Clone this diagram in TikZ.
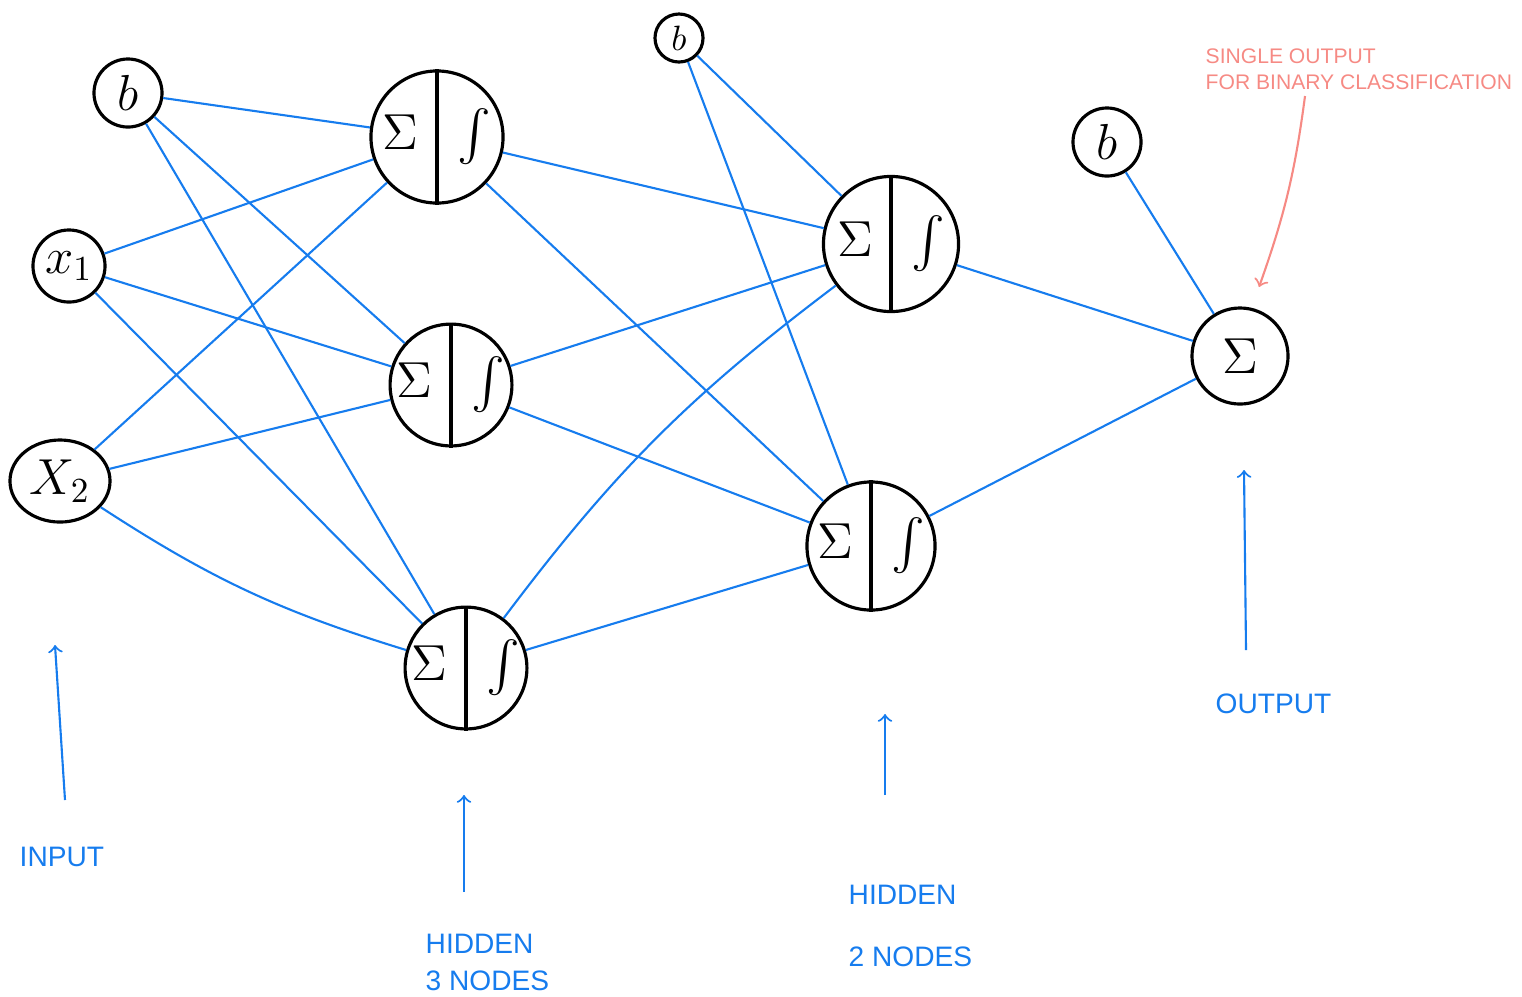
\documentclass[tikz,border=0pt]{standalone}
\usepackage{amsmath,amssymb}
\usepackage{fontspec}
\setsansfont{Liberation Sans}
\usepackage{tikz}
\usetikzlibrary{shapes.geometric}
\definecolor{pen}{RGB}{22,124,238}
\definecolor{note}{RGB}{246,138,132}

\begin{document}
\begin{tikzpicture}[x=0.01cm,y=-0.01cm,
    unit/.style={draw,circle,line width=0.9pt,inner sep=0pt,font=\Large},
    wire/.style={pen,line width=0.6pt},
    lbl/.style={pen,font=\sffamily\footnotesize,anchor=west,align=left,inner sep=0pt},
    remark/.style={note,font=\sffamily\fontsize{6}{7.5}\selectfont,anchor=west,align=left,inner sep=0pt}]
    \useasboundingbox (0,0) rectangle (1522,996);
    %input layer
    \node[unit,minimum size=0.68cm] (b1) at (128,93) {$b$};
    \node[unit,minimum size=0.72cm] (x1) at (69,266) {$x_1$};
    \node[unit,ellipse,minimum width=1.0cm,minimum height=0.82cm] (x2) at (60,481) {$X_2$};
    %first hidden layer
    \node[unit,minimum size=1.32cm] (h1) at (437,137) {$\Sigma\hspace{3mm}\int$};
    \node[unit,minimum size=1.2cm] (h2) at (451,385) {$\Sigma\hspace{3mm}\int$};
    \node[unit,minimum size=1.12cm] (h3) at (466,668) {$\Sigma\hspace{3mm}\int$};
    %second hidden layer
    \node[unit,minimum size=0.48cm,font=\normalsize] (b2) at (679,38) {$b$};
    \node[unit,minimum size=1.35cm] (g1) at (891,244) {$\Sigma\hspace{3mm}\int$};
    \node[unit,minimum size=1.28cm] (g2) at (871,546) {$\Sigma\hspace{3mm}\int$};
    %output layer
    \node[unit,minimum size=0.68cm] (b3) at (1107,142) {$b$};
    \node[unit,minimum size=0.96cm] (o) at (1240,356) {$\Sigma$};
    %dividers
    \foreach \n in {h1,h2,h3,g1,g2}
        \draw[line width=0.9pt] (\n.north) -- (\n.south);
    %edges
    \path[wire]
     (b1) edge (h1)
     (b1) edge (h2)
     (b1) edge (h3)
     (x1) edge (h1)
     (x1) edge (h2)
     (x1) edge (h3)
     (x2) edge (h1)
     (x2) edge (h2)
     (x2) edge[bend right=8] (h3)
     (h1) edge (g1)
     (h1) edge (g2)
     (h2) edge (g1)
     (h2) edge (g2)
     (h3) edge[bend left=8] (g1)
     (h3) edge (g2)
     (b2) edge (g1)
     (b2) edge (g2)
     (g1) edge (o)
     (g2) edge (o)
     (b3) edge (o);
    %labels
    \node[lbl] (inp) at (19,857) {INPUT};
    \node[lbl] (hid3) at (425,962) {HIDDEN\\[1pt]3 NODES};
    \node[lbl] (hid2) at (848,926) {HIDDEN\\[8pt]2 NODES};
    \node[lbl] (outp) at (1215,704) {OUTPUT};
    \node[remark] (nt) at (1205,69) {SINGLE OUTPUT\\FOR BINARY CLASSIFICATION};
    %pointers
    \coordinate (p1) at (65,800);   \coordinate (q1) at (55,645);
    \coordinate (p2) at (464,892);  \coordinate (q2) at (464,795);
    \coordinate (p3) at (885,795);  \coordinate (q3) at (885,714);
    \coordinate (p4) at (1246,650); \coordinate (q4) at (1244,470);
    \coordinate (p5) at (1305,96);  \coordinate (q5) at (1259,287);
    \draw[wire,->] (p1) -- (q1);
    \draw[wire,->] (p2) -- (q2);
    \draw[wire,->] (p3) -- (q3);
    \draw[wire,->] (p4) -- (q4);
    \draw[note,line width=0.6pt,->] (p5) to[bend left=6] (q5);
\end{tikzpicture}
\end{document}
